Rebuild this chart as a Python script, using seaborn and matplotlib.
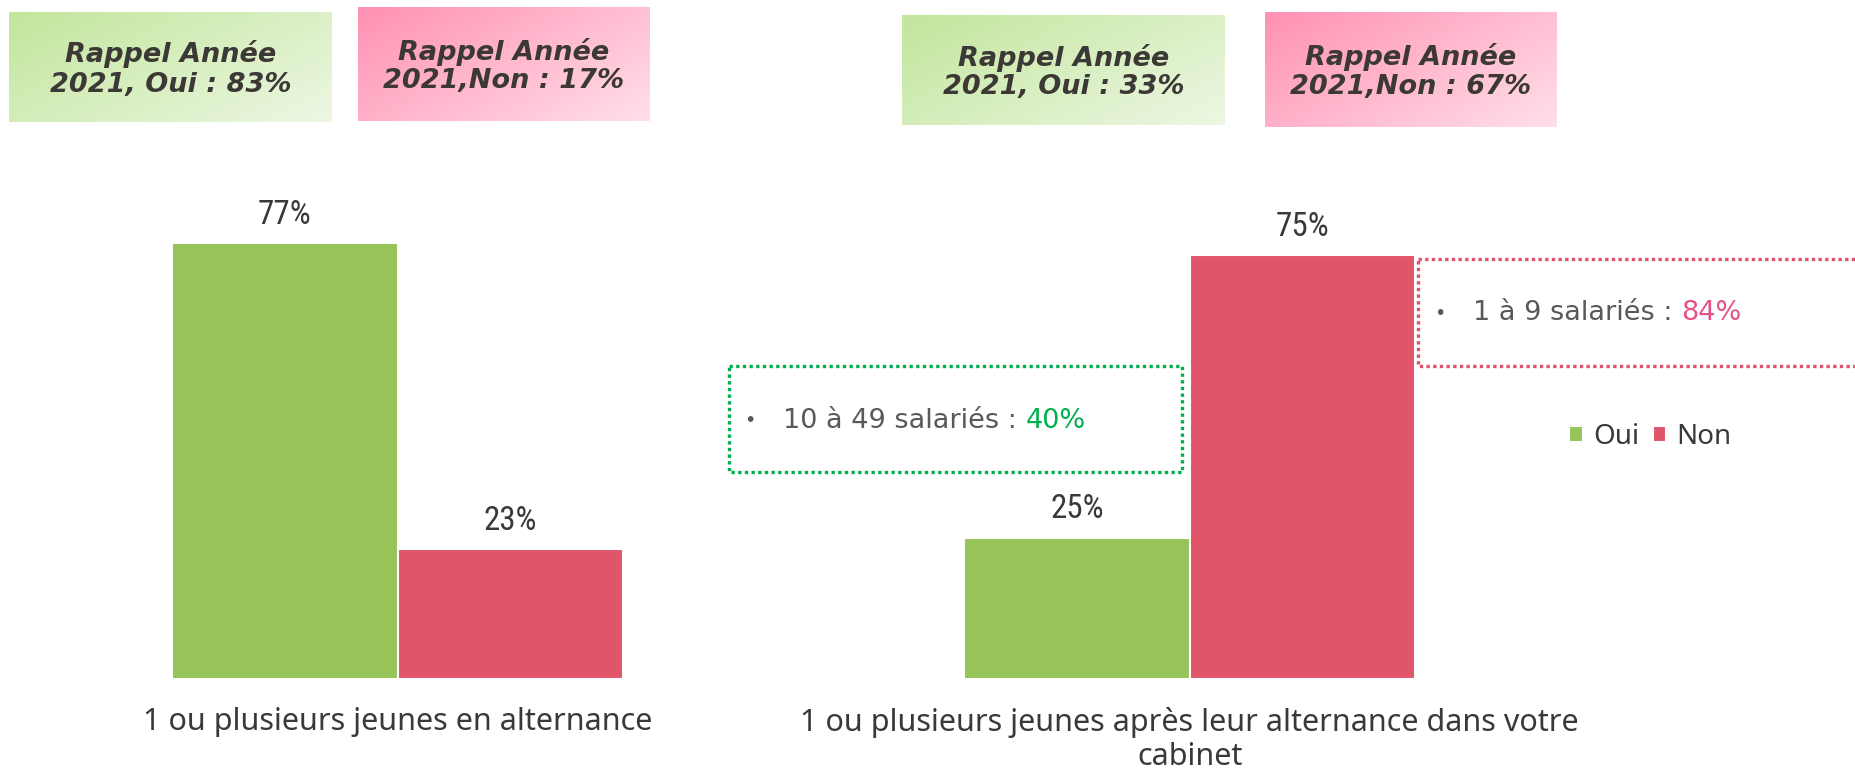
import numpy as np
import pandas as pd
import matplotlib
matplotlib.use("Agg")
import matplotlib.pyplot as plt
import seaborn as sns
from matplotlib import font_manager

# ---------------- data ----------------
categories = ["1 ou plusieurs jeunes en alternance",
              "1 ou plusieurs jeunes après leur alternance dans votre\ncabinet"]
responses = ["Oui", "Non"]
chart1_values = [77, 23]
chart2_values = [25, 75]
recall_texts_1 = ["Rappel Année\n2021, Oui : 83%", "Rappel Année\n2021,Non : 17%"]
recall_texts_2 = ["Rappel Année\n2021, Oui : 33%", "Rappel Année\n2021,Non : 67%"]
note_green = ("10 à 49 salariés : ", "40%")
note_red = ("1 à 9 salariés : ", "84%")

GREEN = "#96C458"
RED = "#E0556A"
TXT = "#3B3835"
GREY = "#595959"

sns.set_theme(style="white")
plt.rcParams["font.family"] = ["Noto Sans", "DejaVu Sans"]

# pick a narrow face for the data labels if one is installed
names = {f.name for f in font_manager.fontManager.ttflist}
narrow = None
for cand in ["Liberation Sans Narrow", "DejaVu Sans Condensed", "Roboto Condensed",
             "Open Sans Condensed", "Noto Sans Condensed"]:
    if cand in names:
        narrow = cand
        break
cond_faces = [f for f in font_manager.fontManager.ttflist
              if f.stretch in ("condensed", "semi-condensed", "extra-condensed")
              and f.weight in (400, "normal", "regular") and f.style == "normal"]
if narrow is None and cond_faces:
    narrow = cond_faces[0].name
LABEL_FAMILY = [narrow, "DejaVu Sans"] if narrow else ["Roboto", "DejaVu Sans"]
LABEL_SIZE = 23.8 if narrow else 21

W, H = 1856, 770
fig = plt.figure(figsize=(W / 100, H / 100), dpi=100)

bg = fig.add_axes([0, 0, 1, 1], zorder=0)
bg.axis("off")


def grad_box(x0, x1, y0, y1, c0, c1, text):
    n = 64
    gx, gy = np.meshgrid(np.linspace(0, 1, n), np.linspace(0, 1, n))
    t = (gx * 0.6 + gy * 0.4)
    c0 = np.array(matplotlib.colors.to_rgb(c0))
    c1 = np.array(matplotlib.colors.to_rgb(c1))
    img = c0[None, None, :] * (1 - t[..., None]) + c1[None, None, :] * t[..., None]
    bg.imshow(img, extent=(x0, x1, y1, y0), aspect="auto", interpolation="bilinear", zorder=1)
    bg.text((x0 + x1) / 2, (y0 + y1) / 2 + 2, text, ha="center", va="center",
            fontsize=19.5, fontweight="bold", fontstyle="italic", color=TXT,
            family=["DejaVu Sans"], linespacing=1.15, zorder=2)


G0, G1 = "#C2E69C", "#EDF7E3"
P0, P1 = "#FF91B3", "#FFDFE8"
grad_box(9, 332, 12, 122, G0, G1, recall_texts_1[0])
grad_box(358, 650, 7, 121, P0, P1, recall_texts_1[1])
grad_box(902, 1225, 15, 125, G0, G1, recall_texts_2[0])
grad_box(1265, 1557, 12, 127, P0, P1, recall_texts_2[1])

from matplotlib.patches import Rectangle
bg.add_patch(Rectangle((729.5, 365.5), 453, 106, fill=False, edgecolor="#00B050",
                       linewidth=2.4, linestyle=(0, (1, 1)), zorder=2))
bg.add_patch(Rectangle((1418.5, 258.5), 520, 107, fill=False, edgecolor="#E0516A",
                       linewidth=2.4, linestyle=(0, (1, 1)), zorder=2))

bg.set_xlim(0, W)
bg.set_ylim(H, 0)


def note(xb, xt, yc, main, pct, pct_color):
    bg.text(xb, yc, "•", ha="center", va="center", fontsize=14, color=GREY,
            family=["DejaVu Sans"], zorder=3)
    t1 = bg.text(xt, yc, main, ha="left", va="center", fontsize=19.5, color=GREY,
                 family=["DejaVu Sans"], zorder=3)
    bg.annotate(pct, xy=(1, 0), xycoords=t1, ha="left", va="bottom", fontsize=19.5,
                color=pct_color, family=["DejaVu Sans"], zorder=3)


note(750, 783, 421, note_green[0], note_green[1], "#00B050")
note(1440, 1473, 313.5, note_red[0], note_red[1], "#E8508A")

# ---------------- charts ----------------
palette = {"Oui": GREEN, "Non": RED}
px_per_unit = 451 / 0.8
ax_w = px_per_unit / W
bottom = 91 / H
height = 566 / H


def draw(center_px, cat, values, legend):
    ax = fig.add_axes([(center_px - px_per_unit / 2) / W, bottom, ax_w, height], zorder=1)
    ax.patch.set_alpha(0)
    df = pd.DataFrame({"cat": [cat] * len(responses), "resp": responses, "val": values})
    sns.barplot(data=df, x="cat", y="val", hue="resp", hue_order=responses,
                palette=palette, ax=ax, width=0.8, edgecolor="white", linewidth=1.5,
                saturation=1, legend=legend)
    ax.set_ylim(0, 100)
    ax.set_xlim(-0.5, 0.5)
    for cont in ax.containers:
        for bar, v in zip(cont, cont.datavalues):
            ax.annotate(f"{v:.0f}%", xy=(bar.get_x() + bar.get_width() / 2, bar.get_height()),
                        xytext=(0, 19), textcoords="offset pixels", ha="center", va="baseline",
                        fontsize=LABEL_SIZE, color=TXT, family=LABEL_FAMILY)
    sns.despine(ax=ax, left=True, bottom=True)
    ax.set_yticks([])
    ax.set_xlabel("")
    ax.set_ylabel("")
    ax.tick_params(axis="x", length=0, pad=20, labelsize=22, labelcolor=TXT)
    for lab in ax.get_xticklabels():
        lab.set_linespacing(1.18)
    return ax


ax1 = draw(397.5, categories[0], chart1_values, False)
ax2 = draw(1189.6, categories[1], chart2_values, True)

handles, labels = ax2.get_legend_handles_labels()
ax2.get_legend().remove()
fig.legend(handles, labels, loc="center", bbox_to_anchor=(1650.5 / W, 1 - 437 / H),
           ncol=2, frameon=False, fontsize=20, handlelength=0.5, handleheight=0.5,
           handletextpad=0.36, columnspacing=0.47, labelcolor=TXT)

fig.savefig("out.png", dpi=100)
